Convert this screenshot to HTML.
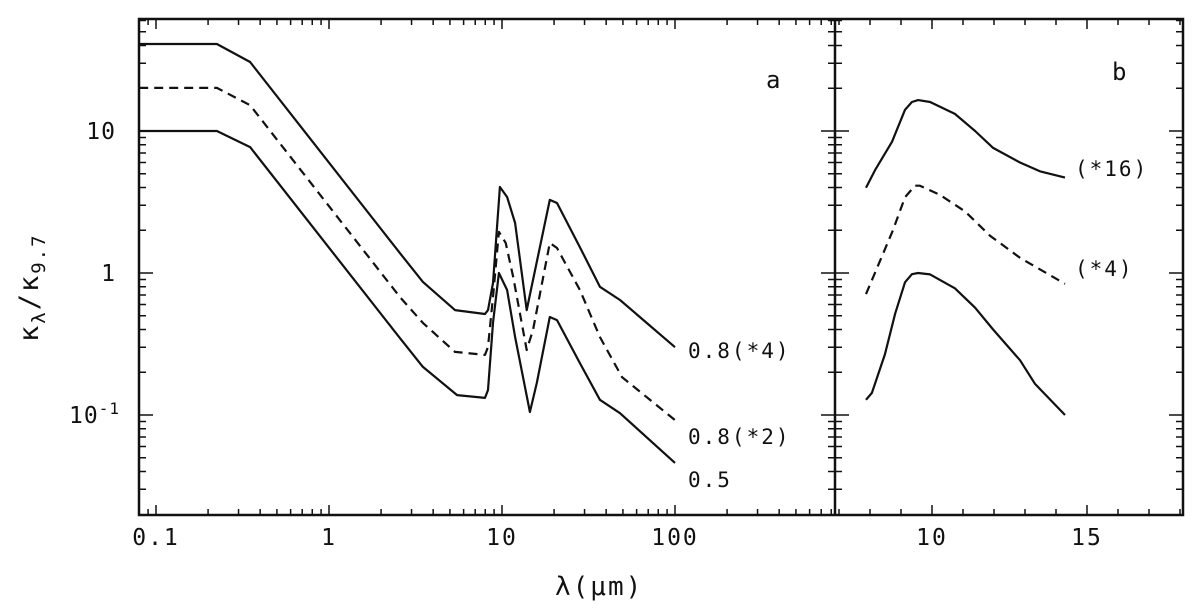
<!DOCTYPE html>
<html><head><meta charset="utf-8"><style>
html,body{margin:0;padding:0;background:#fff;}
svg text{font-family:"DejaVu Sans Mono","Liberation Mono",monospace;fill:#111;}
</style></head><body>
<svg id="chart" width="1200" height="609" viewBox="0 0 1200 609" xmlns="http://www.w3.org/2000/svg">
<g id="axes"></g>
<g id="series"></g>
<text x="766" y="88" font-size="24">a</text>
<text x="1112" y="80" font-size="24">b</text>
<text x="688" y="358" font-size="21" letter-spacing="2">0.8(*4)</text>
<text x="688" y="444" font-size="21" letter-spacing="2">0.8(*2)</text>
<text x="688" y="487" font-size="21" letter-spacing="2">0.5</text>
<text x="1075" y="176" font-size="21" letter-spacing="2">(*16)</text>
<text x="1075" y="276" font-size="21" letter-spacing="2">(*4)</text>
<text x="555" y="595" font-size="26" letter-spacing="2">λ(μm)</text>
<text transform="translate(38,342) rotate(-90)" font-size="27" letter-spacing="2">κ<tspan font-size="19" dy="7">λ</tspan><tspan dy="-7">/κ</tspan><tspan font-size="19" dy="7">9.7</tspan></text>
</svg>
<script>
// Panel a data
const aX1 = [0.08,0.225,0.35,2.57,3.49,5.35,7.97,8.3,8.87,9.73,10.7,11.9,13.9,15.1,18.9,20.8,28.2,36.8,48.1,100];
const aY1 = [41,41,30.6,1.38,0.865,0.548,0.514,0.548,0.851,4.03,3.43,2.25,0.548,0.893,3.27,3.11,1.52,0.80,0.645,0.30];
const aX2 = [0.08,0.225,0.35,2.57,3.49,5.35,7.97,8.3,8.87,9.6,10.5,11.6,13.9,15.1,18.9,20.8,28.2,36.8,49.4,100];
const aY2 = [20.1,20.1,15.2,0.678,0.445,0.278,0.265,0.301,0.678,1.95,1.63,0.937,0.287,0.397,1.63,1.50,0.759,0.354,0.185,0.092];
const aX3 = [0.08,0.225,0.35,2.57,3.49,5.5,7.97,8.3,8.87,9.6,10.7,11.9,14.5,15.9,18.9,20.8,28.2,36.8,48.1,100];
const aY3 = [10,10,7.7,0.348,0.218,0.138,0.132,0.150,0.445,1.0,0.759,0.354,0.105,0.168,0.49,0.466,0.232,0.128,0.103,0.046];
// Panel b data
const bX1 = [7.87,8.16,8.71,9.13,9.35,9.55,9.94,10.74,11.39,11.97,12.84,13.48,14.29];
const bY1 = [3.98,5.3,8.4,14.1,16.0,16.5,16.0,13.2,10,7.6,6.0,5.2,4.7];
const bX2 = [7.87,8.32,8.74,9.13,9.45,9.61,10.26,11.06,11.87,12.84,14.29];
const bY2 = [0.71,1.21,2.0,3.41,4.12,4.12,3.54,2.72,1.83,1.28,0.84];
const bX3 = [7.87,8.06,8.48,8.81,9.13,9.35,9.55,9.94,10.74,11.39,11.97,12.84,13.32,14.29];
const bY3 = [0.128,0.143,0.267,0.516,0.86,0.98,1.0,0.977,0.78,0.57,0.40,0.243,0.166,0.1];
const aTickLabels = ["0.1","1","10","100"];
const aTickVals = [0.1,1,10,100];
const bTickVals = [10,15];
const yTickVals = [10,1,0.1];

const NS="http://www.w3.org/2000/svg";
const L=139,T=19,B=515,D=835,R=1183;
const xa=v=>156+(Math.log10(v)+1)*173;
const xb=v=>932+(v-10)*31;
const y=v=>131+(1-Math.log10(v))*142;
const axes=document.getElementById('axes'), ser=document.getElementById('series');
function mk(tag,attrs,parent){const e=document.createElementNS(NS,tag);for(const k in attrs)e.setAttribute(k,attrs[k]);parent.appendChild(e);return e;}
function ln(x1,y1,x2,y2,w){return mk('line',{x1,y1,x2,y2,stroke:'#111','stroke-width':w||2},axes);}
const fr=mk('rect',{x:L,y:T,width:R-L,height:B-T,fill:'none',stroke:'#111','stroke-width':2.5},axes);


const dv=ln(D,T,D,B,2.5);


for(let d=-2;d<=2;d++)for(let m=1;m<10;m++){const v=m*Math.pow(10,d);const px=xa(v);if(px<L+1||px>D-1)continue;const len=m==1?10:6;ln(px,B,px,B-len,1.5);ln(px,T,px,T+len,1.5);}
for(let d=-2;d<=2;d++)for(let m=1;m<10;m++){const v=m*Math.pow(10,d);const py=y(v);if(py<T+1||py>B-1)continue;const len=m==1?14:7;ln(L,py,L+len,py,1.5);ln(D,py,D-len,py,1.5);ln(D,py,D+len,py,1.5);ln(R,py,R-len,py,1.5);}
for(let v=7;v<=18;v++){const px=xb(v);if(px<D+1||px>R-1)continue;const len=(v%5==0)?10:6;ln(px,B,px,B-len,1.5);ln(px,T,px,T+len,1.5);}
aTickVals.forEach((v,i)=>{const t=mk('text',{x:xa(v),y:545,'font-size':23,'text-anchor':'middle','letter-spacing':2},axes);t.textContent=aTickLabels[i];

});
bTickVals.forEach(v=>{const t=mk('text',{x:xb(v),y:545,'font-size':23,'text-anchor':'middle','letter-spacing':2},axes);t.textContent=String(v);

});
yTickVals.forEach(v=>{const t=mk('text',{x:116,y:y(v)+8,'font-size':23,'text-anchor':'end','letter-spacing':1},axes);
if(v>=1)t.textContent=String(v);else{t.textContent='10';const s=mk('tspan',{'font-size':16,dy:-9},t);s.textContent='-1';t.setAttribute('x',120);}

});
function line(xs,ys,fx,dash,name){const d=xs.map((v,i)=>(i?'L':'M')+fx(v).toFixed(1)+','+y(ys[i]).toFixed(1)).join(' ');
const p=mk('path',{d,fill:'none',stroke:'#111','stroke-width':2.2,'stroke-linejoin':'round'},ser);if(dash)p.setAttribute('stroke-dasharray','9,6');

}
line(aX1,aY1,xa,false,'line-a-08x4');
line(aX2,aY2,xa,true,'line-a-08x2');
line(aX3,aY3,xa,false,'line-a-05');
line(bX1,bY1,xb,false,'line-b-x16');
line(bX2,bY2,xb,true,'line-b-x4');
line(bX3,bY3,xb,false,'line-b-x1');
</script>
</body></html>
